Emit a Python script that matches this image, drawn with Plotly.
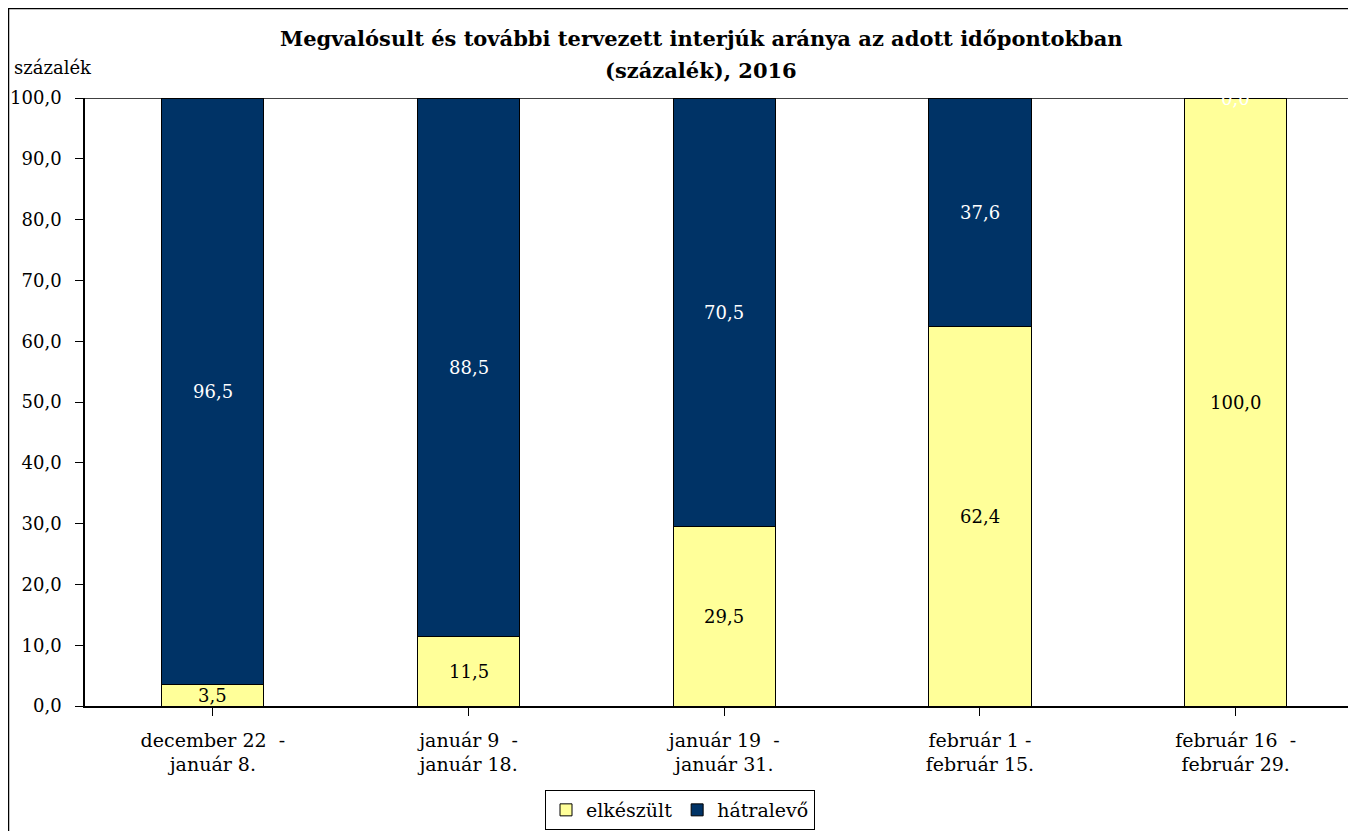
import plotly.graph_objects as go

categories = ["december 22  -<br>január 8.", "január 9  -<br>január 18.", "január 19  -<br>január 31.",
              "február 1 -<br>február 15.", "február 16  -<br>február 29."]
elkeszult = [3.5, 11.5, 29.5, 62.4, 100.0]
hatralevo = [96.5, 88.5, 70.5, 37.6, 0.0]
y_ticks = [0, 10, 20, 30, 40, 50, 60, 70, 80, 90, 100]
title_lines = ["Megvalósult és további tervezett interjúk aránya az adott időpontokban", "(százalék), 2016"]

W, H = 1356, 831
OFF = 8  # page body margin
L, T = 85 - OFF, 98 - OFF
B = H - (706 - OFF)
R = 1
pw = W - L - R
ph = H - T - B
cat_px = 255.7
xmax = -0.5 + pw / cat_px

FONT = "DejaVu Serif"

fig = go.Figure()
fig.add_trace(go.Bar(x=list(range(5)), y=elkeszult, name="elkészült",
                     marker=dict(color="#FFFF99", line=dict(color="#000000", width=1)), width=0.4))
fig.add_trace(go.Bar(x=list(range(5)), y=hatralevo, name="hátralevő",
                     marker=dict(color="#003366", line=dict(color="#000000", width=1)), width=0.4))

def fmt(v):
    return f"{v:.1f}".replace(".", ",")

for i, v in enumerate(elkeszult):
    fig.add_annotation(x=i, y=v / 2, text=fmt(v), showarrow=False,
                       font=dict(family=FONT, size=18, color="#000000"))
for i, v in enumerate(hatralevo):
    fig.add_annotation(x=i, y=elkeszult[i] + v / 2, text=fmt(v), showarrow=False,
                       font=dict(family=FONT, size=18, color="#FFFFFF"))

def px_x(p):
    return (p - OFF - L) / pw
def px_y(p):
    return (H - B - (p - OFF)) / ph

# chart border
fig.add_shape(type="rect", xref="paper", yref="paper", x0=px_x(8.5), x1=px_x(1420), y0=px_y(8.5), y1=px_y(950),
              line=dict(color="#000000", width=1.5), layer="below")
# top border of plot area
fig.add_shape(type="line", xref="paper", yref="y", x0=0, x1=1, y0=100, y1=100,
              line=dict(color="#000000", width=1.5))

for line, yc in zip(title_lines, [38, 70]):
    fig.add_annotation(xref="paper", yref="paper", x=px_x(701), y=px_y(yc), xanchor="center", yanchor="middle",
                       text=f"<b>{line}</b>", showarrow=False,
                       font=dict(family=FONT, size=21, color="#000000"))
fig.add_annotation(xref="paper", yref="paper", x=px_x(12), y=px_y(68), xanchor="left", yanchor="middle",
                   text="százalék", showarrow=False, font=dict(family=FONT, size=18, color="#000000"))

fig.update_layout(
    width=W, height=H, barmode="stack", bargap=0.6,
    margin=dict(l=L, r=R, t=T, b=B, autoexpand=False),
    plot_bgcolor="#FFFFFF", paper_bgcolor="#FFFFFF",
    separators=", ",
    font=dict(family=FONT, size=18, color="#000000"),
    showlegend=True,
    legend=dict(orientation="h", x=px_x(680), y=px_y(810), xanchor="center", yanchor="middle",
                bordercolor="#000000", borderwidth=1, bgcolor="#FFFFFF",
                font=dict(family=FONT, size=19), itemwidth=30, traceorder="normal"),
    xaxis=dict(range=[-0.5, xmax], tickmode="array", tickvals=list(range(5)), ticktext=categories,
               showline=True, linecolor="#000000", linewidth=1.5, ticks="outside", ticklen=8,
               tickcolor="#000000", showgrid=False, zeroline=False, tickson="boundaries",
               ticklabelstandoff=8, tickfont=dict(family=FONT, size=19)),
    yaxis=dict(range=[0, 100], tickvals=y_ticks, tickformat=".1f", showline=True, linecolor="#000000",
               linewidth=1.5, ticks="outside", ticklen=8, tickcolor="#000000", showgrid=False,
               zeroline=False, ticklabelstandoff=10, tickfont=dict(family=FONT, size=18)),
)

fig.write_html("out.html")
